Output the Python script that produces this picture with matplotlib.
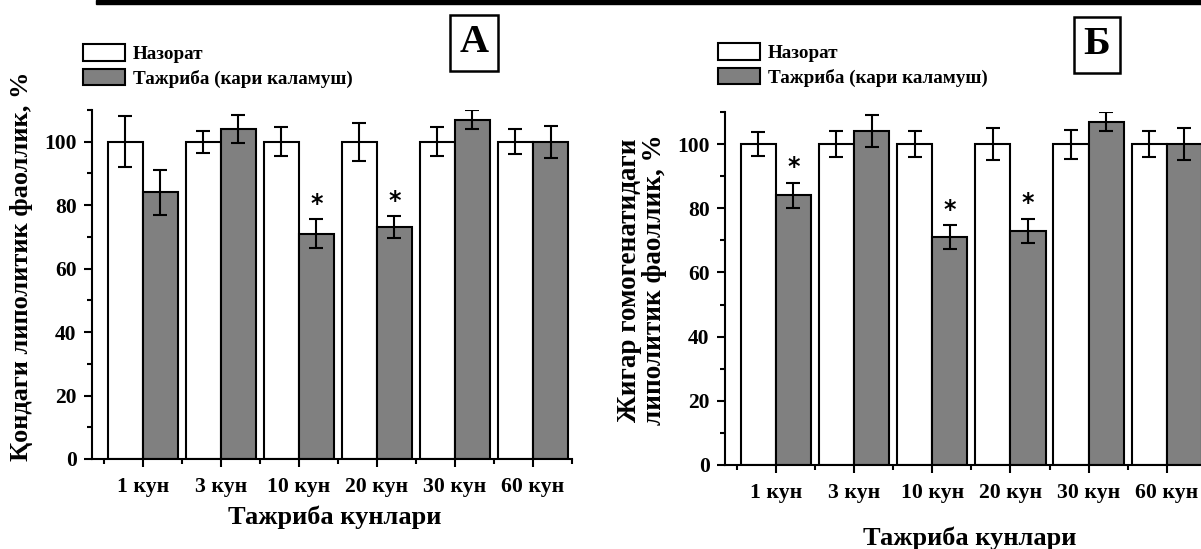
import matplotlib
matplotlib.use('Agg')
import matplotlib.pyplot as plt
from matplotlib.patches import Rectangle
from matplotlib.ticker import MultipleLocator, FixedLocator
import numpy as np

plt.rcParams['font.family'] = ['Liberation Serif', 'DejaVu Serif']
plt.rcParams['font.weight'] = 'bold'

days = ['1 кун', '3 кун', '10 кун', '20 кун', '30 кун', '60 кун']

# Panel A - Қондаги
ctrl_a = [100, 100, 100, 100, 100, 100]
ctrl_a_err = [8, 3.5, 4.5, 6, 4.5, 4]
exp_a = [84, 104, 71, 73, 107, 100]
exp_a_err = [7, 4.5, 4.5, 3.5, 2.9, 5]
star_a = [False, False, True, True, False, False]

# Panel Б - Жигар гомогенатидаги
ctrl_b = [100, 100, 100, 100, 100, 100]
ctrl_b_err = [3.7, 4, 4, 5, 4.5, 4]
exp_b = [84, 104, 71, 73, 107, 100]
exp_b_err = [4, 5, 3.8, 3.7, 2.9, 5]
star_b = [True, False, True, True, False, False]

W, H = 1201, 549
fig = plt.figure(figsize=(W / 100, H / 100), dpi=100)

# thick black line on top
fig.patches.append(Rectangle((96 / W, 1 - 4 / H), 1 - 96 / W, 4 / H,
                             transform=fig.transFigure, color='black', zorder=5))

ax_a = fig.add_axes([92 / W, 1 - 459 / H, 480 / W, 349 / H])
ax_b = fig.add_axes([725 / W, 1 - 465 / H, 481 / W, 353 / H])

bw = 0.45


def draw_panel(ax, ctrl, ctrl_err, exp, exp_err, stars):
    x = np.arange(len(days))
    b1 = ax.bar(x - bw / 2, ctrl, bw, color='white', edgecolor='black', linewidth=1.5,
                label='Назорат', zorder=2)
    b2 = ax.bar(x + bw / 2, exp, bw, color='#808080', edgecolor='black', linewidth=1.5,
                label='Тажриба (кари каламуш)', zorder=2)
    ax.errorbar(x - bw / 2, ctrl, yerr=ctrl_err, fmt='none', ecolor='black',
                elinewidth=1.5, capsize=4.7, capthick=1.5, zorder=3)
    ax.errorbar(x + bw / 2, exp, yerr=exp_err, fmt='none', ecolor='black',
                elinewidth=1.5, capsize=4.7, capthick=1.5, zorder=3)
    for i, s in enumerate(stars):
        if s:
            ax.text(x[i] + bw / 2, exp[i] + exp_err[i] + 4.8, '*', ha='center', va='center',
                    fontsize=17, family='DejaVu Sans', fontweight='bold')
    ax.set_xlim(-0.65, 5.5)
    ax.set_ylim(0, 110)
    ax.spines['top'].set_visible(False)
    ax.spines['right'].set_visible(False)
    ax.spines['left'].set_linewidth(1.5)
    ax.spines['bottom'].set_linewidth(1.5)
    ax.set_xticks(x)
    ax.set_xticklabels(days)
    ax.xaxis.set_minor_locator(FixedLocator(np.arange(-0.5, 6, 1)))
    ax.yaxis.set_major_locator(MultipleLocator(20))
    ax.yaxis.set_minor_locator(MultipleLocator(10))
    ax.tick_params(which='major', direction='out', length=6, width=1.5)
    ax.tick_params(which='minor', direction='out', length=3.6, width=1.5)
    ax.tick_params(axis='x', which='major', pad=7, labelsize=15.7)
    ax.tick_params(axis='y', which='major', pad=5, labelsize=15.5)
    for lbl in ax.get_xticklabels() + ax.get_yticklabels():
        lbl.set_fontweight('bold')
    return b1, b2


h_a = draw_panel(ax_a, ctrl_a, ctrl_a_err, exp_a, exp_a_err, star_a)
h_b = draw_panel(ax_b, ctrl_b, ctrl_b_err, exp_b, exp_b_err, star_b)

for ax, (lx, ly), handles in [(ax_a, (83, 44), h_a), (ax_b, (718, 43), h_b)]:
    ax.legend(handles=handles, loc='upper left', bbox_to_anchor=(lx / W, 1 - ly / H),
              bbox_transform=fig.transFigure, frameon=False, borderpad=0,
              borderaxespad=0, handlelength=2.2, handleheight=0.95, handletextpad=0.4,
              labelspacing=0.3, prop={'size': 13.8, 'weight': 'bold'})

# axis labels
fig.text(335 / W, 1 - 517 / H, 'Тажриба кунлари', ha='center', va='center',
         fontsize=19, fontweight='bold')
fig.text(970 / W, 1 - 538 / H, 'Тажриба кунлари', ha='center', va='center',
         fontsize=19, fontweight='bold')
fig.text(22 / W, 1 - 266 / H, 'Қондаги липолитик фаоллик, %', rotation=90,
         ha='center', va='center', fontsize=19, fontweight='bold')
fig.text(642 / W, 1 - 280 / H, 'Жигар гомогенатидаги\nлиполитик фаоллик, %', rotation=90,
         ha='center', va='center', fontsize=19.5, fontweight='bold', multialignment='center',
         linespacing=1.0)

# panel letters
for txt, cx, cy in [('А', 474, 43), ('Б', 1097, 45)]:
    fig.text(cx / W, 1 - cy / H, txt, ha='center', va='center', fontsize=29,
             fontweight='bold',
             bbox=dict(boxstyle='square,pad=0.24', facecolor='white',
                       edgecolor='black', linewidth=1.8))

fig.savefig('out.png', dpi=100)
